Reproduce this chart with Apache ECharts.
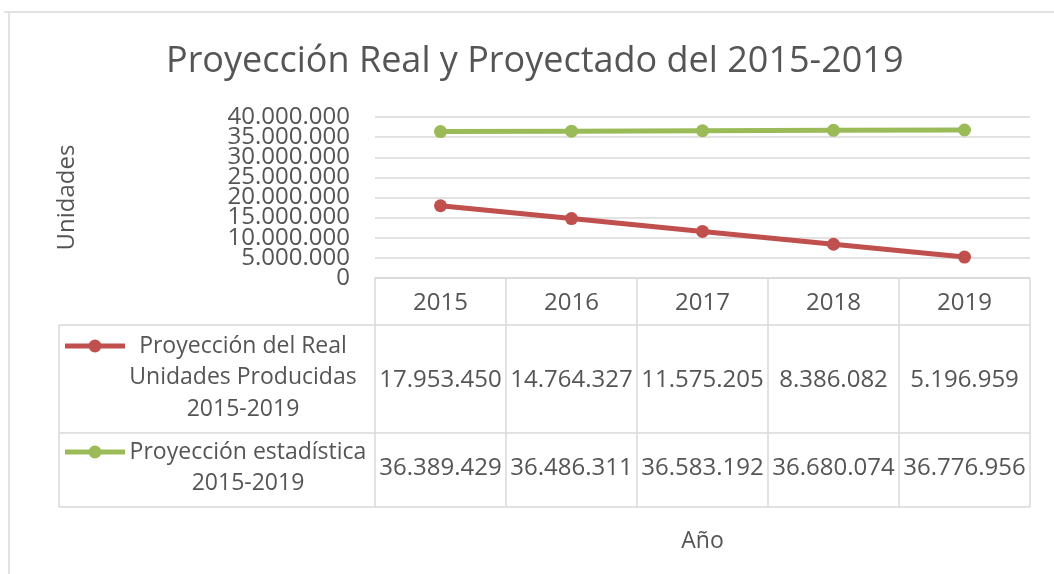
<!DOCTYPE html>
<html><head><meta charset="utf-8">
<script src="https://cdn.jsdelivr.net/npm/echarts@6/dist/echarts.min.js"></script>
<style>html,body{margin:0;padding:0;background:#fff}#c{width:1054px;height:574px}</style>
</head><body><div id="c"></div>
<script>
const years = ['2015', '2016', '2017', '2018', '2019'];
const realValues = [17953450, 14764327, 11575205, 8386082, 5196959];
const statValues = [36389429, 36486311, 36583192, 36680074, 36776956];
const realLabel = ['Proyección del Real', 'Unidades Producidas', '2015-2019'];
const statLabel = ['Proyección estadística', '2015-2019'];
const yTicks = [0, 5000000, 10000000, 15000000, 20000000, 25000000, 30000000, 35000000, 40000000];
const yMin = 0, yMax = 40000000, yStep = 5000000;

const FONT = 'Open Sans';
const TXT = '#555555';
const LINE = '#d9d9d9';
const RED = '#C0504D', GREEN = '#9BBB59';
const fmt = n => String(n).replace(/\B(?=(\d{3})+(?!\d))/g, '.');

const chart = echarts.init(document.getElementById('c'));
chart.setOption({
  animation: false,
  backgroundColor: '#fff',
  title: {
    text: 'Proyección Real y Proyectado del 2015-2019',
    left: 161, top: 39,
    textStyle: { fontFamily: FONT, fontSize: 36, fontWeight: 'normal', color: TXT }
  },
  grid: { left: 375, right: 24, top: 117, bottom: 296 },
  xAxis: {
    type: 'category', data: years, boundaryGap: true,
    name: 'Año', nameLocation: 'middle', nameGap: 252,
    nameTextStyle: { fontFamily: FONT, fontSize: 23, color: TXT },
    axisLine: { show: true, lineStyle: { color: LINE, width: 1.5 } },
    axisTick: { show: false },
    axisLabel: { margin: 13, fontFamily: FONT, fontSize: 24, color: TXT },
    splitLine: { show: false }
  },
  yAxis: {
    type: 'value', min: yMin, max: yMax, interval: yStep,
    name: 'Unidades', nameLocation: 'middle', nameGap: 296, nameRotate: 90,
    nameTextStyle: { fontFamily: FONT, fontSize: 24, color: TXT },
    axisLine: { show: false }, axisTick: { show: false },
    axisLabel: { show: false },
    splitLine: { lineStyle: { color: LINE, width: 1.5 } }
  },
  series: [
    { name: realLabel.join(' '), type: 'line', data: realValues, symbol: 'circle', symbolSize: 13,
      lineStyle: { color: RED, width: 5 }, itemStyle: { color: RED } },
    { name: statLabel.join(' '), type: 'line', data: statValues, symbol: 'circle', symbolSize: 13,
      lineStyle: { color: GREEN, width: 5 }, itemStyle: { color: GREEN } }
  ]
});

const g = [];
const ln = (x1, y1, x2, y2) => g.push({ type: 'line', shape: { x1, y1, x2, y2 }, style: { stroke: LINE, lineWidth: 1.5 } });
const tx = (x, y, t, size, align) => g.push({ type: 'text', x, y, style: { text: t, fontFamily: FONT, fontSize: size || 24, fill: TXT, align: align || 'center', verticalAlign: 'middle' } });

// y tick labels positioned by the axis scale (Excel-style tight stacking)
const gridLeft = chart.convertToPixel({ xAxisIndex: 0 }, 0) - (chart.convertToPixel({ xAxisIndex: 0 }, 1) - chart.convertToPixel({ xAxisIndex: 0 }, 0)) / 2;
yTicks.forEach(v => tx(gridLeft - 25, chart.convertToPixel({ yAxisIndex: 0 }, v), fmt(v), 24, 'right'));

// Data table built from the axis scale
const cx = years.map((_, i) => chart.convertToPixel({ xAxisIndex: 0 }, i));
const step = cx[1] - cx[0];
const bounds = [cx[0] - step / 2].concat(cx.map(c => c + step / 2));
const yTop = chart.convertToPixel({ yAxisIndex: 0 }, yMin);
const rowTop1 = yTop + 47, rowTop2 = yTop + 155, rowBot = yTop + 229;
const leftX = 59;

// outer frame
ln(4, 12, 1054, 12);
ln(9, 12, 9, 574);
// table lines
bounds.forEach(b => ln(b, yTop, b, rowBot));
ln(leftX, rowTop1, leftX, rowBot);
[rowTop1, rowTop2, rowBot].forEach(y => ln(leftX, y, bounds[5], y));

// values
const r1 = (rowTop1 + rowTop2) / 2 + 1, r2 = (rowTop2 + rowBot) / 2 - 2;
cx.forEach((c, i) => { tx(c, r1, fmt(realValues[i]), 24); tx(c, r2, fmt(statValues[i]), 24); });

// legend keys
const key = (y, col) => {
  g.push({ type: 'line', shape: { x1: 65, y1: y, x2: 125, y2: y }, style: { stroke: col, lineWidth: 5 } });
  g.push({ type: 'circle', shape: { cx: 95, cy: y, r: 6.5 }, style: { fill: col } });
};
key(346, RED);
key(452, GREEN);
realLabel.forEach((t, i) => tx(243, 346 + i * 31.5, t, 23));
statLabel.forEach((t, i) => tx(248, 452 + i * 31.5, t, 23));

chart.setOption({ graphic: { elements: g } });
</script>
</body></html>
